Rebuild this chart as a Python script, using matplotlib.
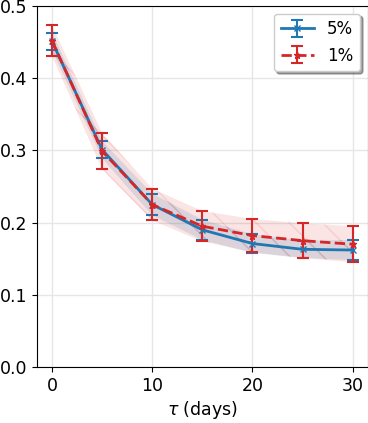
import numpy as np
import matplotlib
matplotlib.use('Agg')
import matplotlib.pyplot as plt

# values
tau = [0, 5, 10, 15, 20, 25, 30]

mean_5 = [0.451, 0.301, 0.225, 0.190, 0.171, 0.163, 0.162]
err_5 = [0.012, 0.012, 0.015, 0.014, 0.013, 0.012, 0.014]

mean_1 = [0.452, 0.299, 0.225, 0.195, 0.182, 0.175, 0.170]
err_1 = [0.021, 0.025, 0.022, 0.021, 0.023, 0.024, 0.025]

blue = '#1f77b4'
red = '#d62728'

plt.rcParams['font.size'] = 12.5

fig = plt.figure(figsize=(3.68, 4.23), dpi=100)
ax = fig.add_axes([0.1005, 0.1324, 0.8985, 0.8534])

t = np.array(tau)
m5 = np.array(mean_5)
e5 = np.array(err_5)
m1 = np.array(mean_1)
e1 = np.array(err_1)

# shaded bands
ax.fill_between(t, m5 - e5, m5 + e5, color=blue, alpha=0.15, hatch='\\', edgecolor=blue, linewidth=0)
ax.fill_between(t, m1 - e1, m1 + e1, color=red, alpha=0.12, hatch='\\', edgecolor=red, linewidth=0)

ax.errorbar(t, m5, yerr=e5, color=blue, linestyle='-', linewidth=2, marker='x', markersize=5,
            capsize=4, elinewidth=1.5, capthick=1.5, label='5%')
ax.errorbar(t, m1, yerr=e1, color=red, linestyle='--', linewidth=2, marker='*', markersize=5,
            capsize=4, elinewidth=1.5, capthick=1.5, label='1%')

ax.set_xlim(-1.5, 31.5)
ax.set_ylim(0.0, 0.5)
ax.set_xticks([0, 10, 20, 30])
ax.set_yticks([0.0, 0.1, 0.2, 0.3, 0.4, 0.5])
ax.grid(True, color='#e6e6e6', linewidth=1)
ax.set_axisbelow(True)
ax.set_xlabel(r'$\tau$ (days)', labelpad=3)

ax.legend(loc='upper right', shadow=True, fancybox=True, fontsize=12, handlelength=2.0,
          handletextpad=0.8, borderaxespad=0.45)

fig.savefig('out.png', dpi=100)
